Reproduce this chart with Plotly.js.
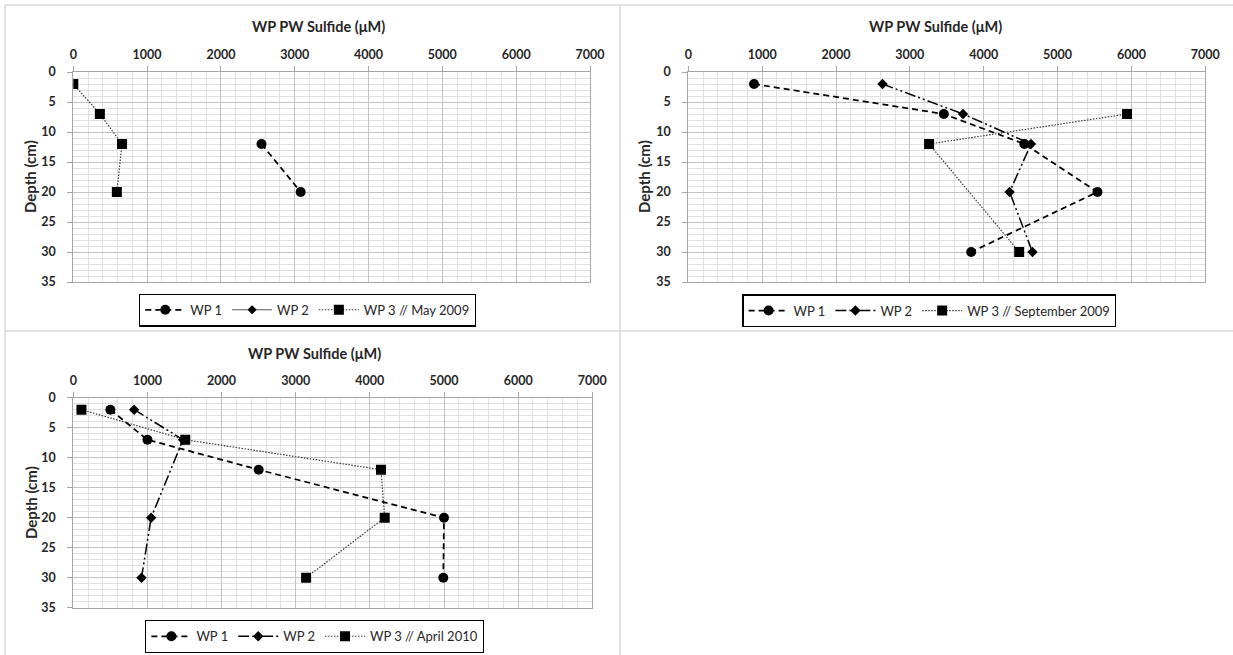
<!DOCTYPE html>
<html>
<head>
<meta charset="utf-8">
<script src="https://cdn.plot.ly/plotly-3.0.1.min.js"></script>
<style>
  html, body { margin: 0; padding: 0; background: #ffffff; }
  #chart { width: 1233px; height: 655px; }
</style>
</head>
<body>
<div id="chart"></div>
<script>
// Pore-water sulfide profiles (µM) against depth (cm) for three sampling campaigns.

// May 2009 (WP 2 has no measurements but keeps its legend entry)
const depthWP1May = [12, 20];
const sulfideWP1May = [2550, 3080];
const depthWP2May = [null];
const sulfideWP2May = [null];
const depthWP3May = [2, 7, 12, 20];
const sulfideWP3May = [0, 360, 660, 590];

// September 2009
const depthWP1Sep = [2, 7, 12, 20, 30];
const sulfideWP1Sep = [890, 3460, 4550, 5540, 3830];
const depthWP2Sep = [2, 7, 12, 20, 30];
const sulfideWP2Sep = [2630, 3720, 4640, 4350, 4660];
const depthWP3Sep = [7, 12, 30];
const sulfideWP3Sep = [5940, 3260, 4480];

// April 2010
const depthWP1Apr = [2, 7, 12, 20, 30];
const sulfideWP1Apr = [500, 1000, 2500, 5000, 4990];
const depthWP2Apr = [2, 7, 20, 30];
const sulfideWP2Apr = [820, 1480, 1050, 920];
const depthWP3Apr = [2, 7, 12, 20, 30];
const sulfideWP3Apr = [110, 1510, 4150, 4200, 3140];

// Legend labels per panel
const seriesNames = ['WP 1', 'WP 2'];
const wp3Labels = ['WP 3 // May 2009', 'WP 3 // September 2009', 'WP 3 // April 2010'];
const panelTitle = 'WP PW Sulfide (μM)';
const depthTitle = 'Depth (cm)';
const sulfideTicks = [0, 1000, 2000, 3000, 4000, 5000, 6000, 7000];
const depthTicks = [0, 5, 10, 15, 20, 25, 30, 35];

const W = 1233, H = 655;
const px = v => v / W;
const py = v => 1 - v / H;

const FONT = 'Lato, "Open Sans", sans-serif';

const styleWP1 = {
  mode: 'lines+markers',
  line: {color: '#000000', width: 1.75, dash: '6px,4px'},
  marker: {symbol: 'circle', size: 10, color: '#000000'}
};
const styleWP2 = {
  mode: 'lines+markers',
  line: {color: '#000000', width: 1.5, dash: '11px,3px,2px,3px,2px,3px'},
  marker: {symbol: 'diamond', size: 8, color: '#000000'}
};
const styleWP2Solid = {
  mode: 'lines+markers',
  line: {color: '#595959', width: 1},
  marker: {symbol: 'diamond', size: 7, color: '#000000'}
};
const styleWP3 = {
  mode: 'lines+markers',
  line: {color: '#3a3a3a', width: 1.2, dash: '1.5px,1.5px'},
  marker: {symbol: 'square', size: 10, color: '#000000'}
};

function series(x, y, name, style, axisN, legendId) {
  return Object.assign({}, style, {
    x: x, y: y, name: name, type: 'scatter',
    xaxis: 'x' + (axisN === 1 ? '' : axisN),
    yaxis: 'y' + (axisN === 1 ? '' : axisN),
    legend: legendId,
    hoverinfo: 'x+y+name'
  });
}

const data = [
  series(sulfideWP1May, depthWP1May, seriesNames[0], styleWP1, 1, 'legend'),
  series(sulfideWP2May, depthWP2May, seriesNames[1], styleWP2Solid, 1, 'legend'),
  series(sulfideWP3May, depthWP3May, wp3Labels[0], styleWP3, 1, 'legend'),

  series(sulfideWP1Sep, depthWP1Sep, seriesNames[0], styleWP1, 2, 'legend2'),
  series(sulfideWP2Sep, depthWP2Sep, seriesNames[1], styleWP2, 2, 'legend2'),
  series(sulfideWP3Sep, depthWP3Sep, wp3Labels[1], styleWP3, 2, 'legend2'),

  series(sulfideWP1Apr, depthWP1Apr, seriesNames[0], styleWP1, 3, 'legend3'),
  series(sulfideWP2Apr, depthWP2Apr, seriesNames[1], styleWP2, 3, 'legend3'),
  series(sulfideWP3Apr, depthWP3Apr, wp3Labels[2], styleWP3, 3, 'legend3')
];

const tickFont = {family: FONT, size: 12.5, color: '#262626', weight: 'bold'};

function xAxis(domain, anchor) {
  return {
    domain: domain, anchor: anchor, side: 'top', range: [0, 7000],
    tickvals: sulfideTicks, ticks: 'outside', ticklen: 5, tickcolor: '#a6a6a6',
    ticklabelstandoff: 2,
    tickfont: tickFont,
    showline: true, linecolor: '#a6a6a6', linewidth: 1, mirror: true,
    showgrid: true, gridcolor: '#c3c3c3', gridwidth: 1,
    minor: {dtick: 200, showgrid: true, gridcolor: '#e1e1e1', gridwidth: 1},
    zeroline: false, fixedrange: true
  };
}
function yAxis(domain, anchor) {
  return {
    domain: domain, anchor: anchor, range: [35, 0],
    tickvals: depthTicks, ticks: 'outside', ticklen: 5, tickcolor: '#a6a6a6',
    ticklabelstandoff: 9,
    tickfont: tickFont,
    showline: true, linecolor: '#a6a6a6', linewidth: 1, mirror: true,
    showgrid: true, gridcolor: '#c3c3c3', gridwidth: 1,
    minor: {dtick: 1, showgrid: true, gridcolor: '#e1e1e1', gridwidth: 1},
    zeroline: false, fixedrange: true
  };
}

function legendBox(cx, cy) {
  return {
    orientation: 'h', x: px(cx), y: py(cy), xanchor: 'center', yanchor: 'middle',
    xref: 'paper', yref: 'paper',
    bordercolor: '#000000', borderwidth: 1.3, bgcolor: '#ffffff',
    font: {family: FONT, size: 13, color: '#262626'},
    itemwidth: 40, tracegroupgap: 0, traceorder: 'normal'
  };
}

function titleAnn(cx, cy, text) {
  return {
    text: text, x: px(cx), y: py(cy), xref: 'paper', yref: 'paper',
    xanchor: 'center', yanchor: 'middle', showarrow: false,
    font: {family: FONT, size: 14.5, color: '#262626', weight: 'bold'}
  };
}
function depthAnn(cx, cy) {
  return {
    text: depthTitle, x: px(cx), y: py(cy), xref: 'paper', yref: 'paper',
    xanchor: 'center', yanchor: 'middle', showarrow: false, textangle: -90,
    font: {family: FONT, size: 15, color: '#262626', weight: 'bold'}
  };
}

function border(x0, y0, x1, y1) {
  return {type: 'line', xref: 'paper', yref: 'paper',
          x0: px(x0), y0: py(y0), x1: px(x1), y1: py(y1),
          line: {color: '#d9d9d9', width: 1.5}, layer: 'below'};
}

const layout = {
  width: W, height: H,
  margin: {l: 0, r: 0, t: 0, b: 0},
  paper_bgcolor: '#ffffff', plot_bgcolor: '#ffffff',
  font: {family: FONT, color: '#262626'},
  showlegend: true,
  xaxis: xAxis([px(73.3), px(590)], 'y'),
  yaxis: yAxis([py(282), py(72)], 'x'),
  xaxis2: xAxis([px(688.3), px(1205.3)], 'y2'),
  yaxis2: yAxis([py(282), py(72)], 'x2'),
  xaxis3: xAxis([px(73.3), px(592.3)], 'y3'),
  yaxis3: yAxis([py(607.7), py(397.7)], 'x3'),
  legend: legendBox(307.5, 310),
  legend2: legendBox(929.3, 310.8),
  legend3: legendBox(314.6, 636.5),
  annotations: [
    titleAnn(318, 26, panelTitle),
    titleAnn(935, 26, panelTitle),
    titleAnn(314, 353, panelTitle),
    depthAnn(30, 177),
    depthAnn(644, 177),
    depthAnn(31, 503)
  ],
  shapes: [
    border(5, 5, 1233, 5),
    border(5, 5, 5, 655),
    border(620, 5, 620, 655),
    border(5, 331, 1233, 331)
  ]
};

Plotly.newPlot('chart', data, layout, {displayModeBar: false, staticPlot: true});
</script>
</body>
</html>
